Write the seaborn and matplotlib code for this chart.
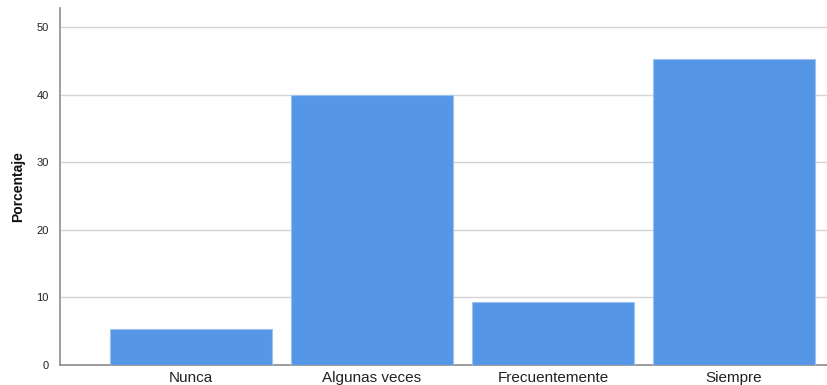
import pandas as pd
import matplotlib.pyplot as plt
import seaborn as sns

categorias = ['Nunca', 'Algunas veces', 'Frecuentemente', 'Siempre']
porcentajes = [5.33, 40.0, 9.33, 45.33]

df = pd.DataFrame({'categoria': categorias, 'porcentaje': porcentajes})

sns.set_style('white')
plt.rcParams['font.family'] = ['Liberation Sans', 'DejaVu Sans']

fig = plt.figure(figsize=(8.28, 3.85), dpi=100)
ax = fig.add_axes([0.0725, 0.052, 0.9275, 0.927])

sns.barplot(data=df, x='categoria', y='porcentaje', color='#5596E6', saturation=1,
            width=0.895, edgecolor='#9cc2ef', linewidth=0.8, ax=ax, zorder=3)

ax.set_ylim(0, 52.8)
ax.set_xlim(-0.724, 3.52)
ax.set_yticks([0, 10, 20, 30, 40, 50])
ax.yaxis.grid(True, color='#d4d4d4', linewidth=1, zorder=0)
ax.set_axisbelow(True)
ax.tick_params(axis='y', length=0, labelsize=8, colors='#222222', pad=8)
ax.tick_params(axis='x', length=0, labelsize=11, colors='#222222', pad=4)
ax.set_xlabel('')
ax.set_ylabel('Porcentaje', fontsize=10, fontweight='bold', labelpad=8, color='#111111')

for s in ['top', 'right']:
    ax.spines[s].set_visible(False)
for s in ['left', 'bottom']:
    ax.spines[s].set_color('#8c8c8c')
    ax.spines[s].set_linewidth(1.2)

fig.savefig('out.png', dpi=100)
